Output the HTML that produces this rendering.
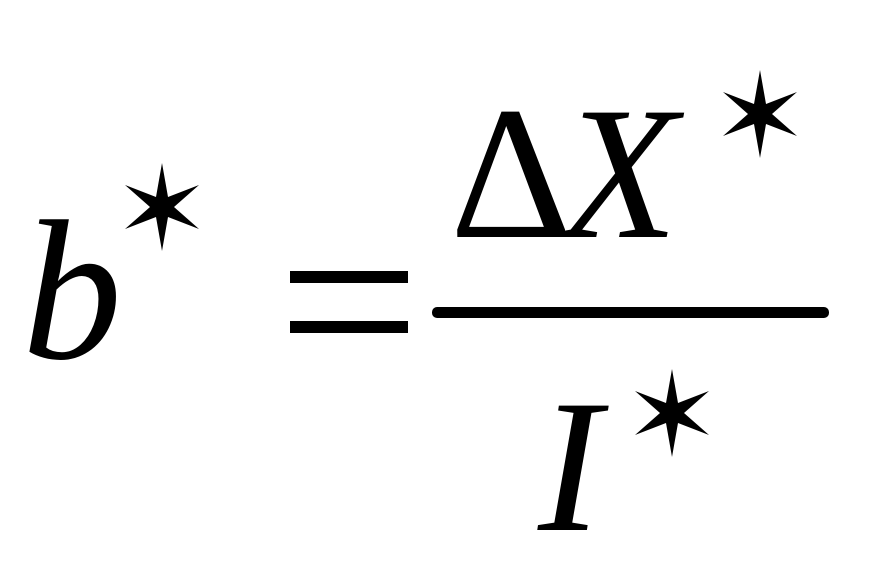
<!DOCTYPE html>
<html><head><meta charset="utf-8"><style>
html,body{margin:0;padding:0;background:#fff;}
svg{display:block}
text{font-family:"Liberation Serif",serif;fill:#000}
</style></head><body>
<svg width="870" height="575" viewBox="0 0 870 575" xmlns="http://www.w3.org/2000/svg">
<defs>
<polygon id="st" points="0,-44 6,-10 37,-22 12,0 37,22 6,10 0,44 -6,10 -37,22 -12,0 -37,-22 -6,-10"/>
</defs>
<text x="22" y="358" font-size="200" font-style="italic">b</text>
<use href="#st" x="162" y="207"/>
<rect x="290" y="271" width="118" height="12"/>
<rect x="290" y="321" width="118" height="12"/>
<rect x="432" y="307" width="397" height="11" rx="5"/>
<text x="450" y="237" font-size="190">Δ</text>
<text x="562" y="237" font-size="190" font-style="italic">X</text>
<use href="#st" x="760" y="114"/>
<text x="538" y="530" font-size="190" font-style="italic">I</text>
<use href="#st" x="672" y="413"/>
</svg>
</body></html>
